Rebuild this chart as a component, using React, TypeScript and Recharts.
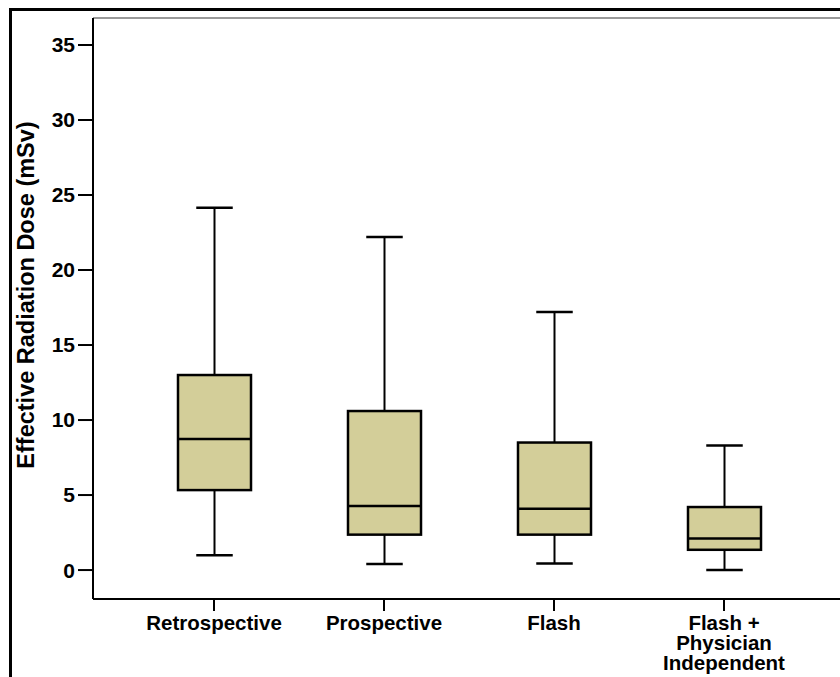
import * as React from "react";
import { ComposedChart, Bar, XAxis, YAxis, ReferenceLine, Label } from "recharts";

const categories = ["Retrospective", "Prospective", "Flash", "Flash + Physician Independent"];
const tickLines = [["Retrospective"], ["Prospective"], ["Flash"], ["Flash +", "Physician", "Independent"]];
const whiskerLow = [0.98, 0.4, 0.44, 0];
const quartile1 = [5.33, 2.36, 2.36, 1.35];
const medians = [8.73, 4.27, 4.09, 2.1];
const quartile3 = [13.0, 10.6, 8.5, 4.2];
const whiskerHigh = [24.15, 22.2, 17.2, 8.3];
const yTicks = [0, 5, 10, 15, 20, 25, 30, 35];
const yDomain: [number, number] = [-1.93, 36.8];

const FONT = '"Liberation Sans", Arial, sans-serif';
const BOX_FILL = "#D3CE99";

const data = categories.map((name, i) => ({
  name,
  range: [whiskerLow[i], whiskerHigh[i]],
  min: whiskerLow[i],
  q1: quartile1[i],
  median: medians[i],
  q3: quartile3[i],
  max: whiskerHigh[i],
}));

function BoxShape(props: any) {
  const { x, y, width, height, payload } = props;
  const top = Math.min(y, y + height);
  const bottom = Math.max(y, y + height);
  const span = payload.max - payload.min;
  // map a value into the pixel span the bar already got from the y scale
  const py = (v: number) => bottom - ((v - payload.min) / span) * (bottom - top);
  const cx = x + width / 2;
  const cap = width / 2;
  return (
    <g>
      <line x1={cx} x2={cx} y1={py(payload.max)} y2={py(payload.q3)} stroke="#000" strokeWidth={2} />
      <line x1={cx} x2={cx} y1={py(payload.q1)} y2={py(payload.min)} stroke="#000" strokeWidth={2} />
      <line x1={cx - cap / 2} x2={cx + cap / 2} y1={py(payload.max)} y2={py(payload.max)} stroke="#000" strokeWidth={2.5} />
      <line x1={cx - cap / 2} x2={cx + cap / 2} y1={py(payload.min)} y2={py(payload.min)} stroke="#000" strokeWidth={2.5} />
      <rect
        x={x}
        y={py(payload.q3)}
        width={width}
        height={py(payload.q1) - py(payload.q3)}
        fill={BOX_FILL}
        stroke="#000"
        strokeWidth={2.5}
      />
      <line x1={x} x2={x + width} y1={py(payload.median)} y2={py(payload.median)} stroke="#000" strokeWidth={2.5} />
    </g>
  );
}

function CategoryTick(props: any) {
  const { x, y, index } = props;
  const lines = tickLines[index] || [];
  return (
    <text x={x} y={y} textAnchor="middle" fontFamily={FONT} fontWeight="bold" fontSize={20.5} fill="#000">
      {lines.map((l, i) => (
        <tspan key={i} x={x} dy={i === 0 ? 15 : 20}>
          {l}
        </tspan>
      ))}
    </text>
  );
}

export default function App() {
  return (
    <div style={{ position: "absolute", left: 0, top: 0, width: 840, height: 677, background: "#fff", overflow: "hidden" }}>
      {/* outer frame: top and left edges only */}
      <div
        style={{
          position: "absolute",
          left: 9,
          top: 8,
          width: 860,
          height: 680,
          borderTop: "3px solid #000",
          borderLeft: "3px solid #000",
          boxSizing: "border-box",
        }}
      />
      <div style={{ position: "absolute", left: 0, top: 0 }}>
        <ComposedChart width={840} height={677} data={data} margin={{ top: 18, right: 0, bottom: 0, left: 0 }}>
          <ReferenceLine y={yDomain[1]} stroke="#999" strokeWidth={2} />
          <XAxis
            dataKey="name"
            type="category"
            height={78}
            padding={{ left: 36, right: 31 }}
            axisLine={{ stroke: "#000", strokeWidth: 2 }}
            tickLine={{ stroke: "#000", strokeWidth: 2 }}
            tickSize={12}
            tickMargin={4}
            interval={0}
            tick={<CategoryTick />}
          />
          <YAxis
            type="number"
            domain={yDomain}
            ticks={yTicks}
            width={93}
            allowDataOverflow
            axisLine={{ stroke: "#000", strokeWidth: 2 }}
            tickLine={{ stroke: "#000", strokeWidth: 2 }}
            tickSize={15}
            tickMargin={3}
            tick={{ fontFamily: FONT, fontWeight: "bold", fontSize: 21, fill: "#000" }}
          >
            <Label
              content={() => (
                <text
                  x={34}
                  y={295}
                  transform="rotate(-90 34 295)"
                  textAnchor="middle"
                  fontFamily={FONT}
                  fontWeight="bold"
                  fontSize={23.5}
                  fill="#000"
                >
                  Effective Radiation Dose (mSv)
                </text>
              )}
            />
          </YAxis>
          <Bar dataKey="range" barSize={73} shape={<BoxShape />} isAnimationActive={false} />
        </ComposedChart>
      </div>
    </div>
  );
}
